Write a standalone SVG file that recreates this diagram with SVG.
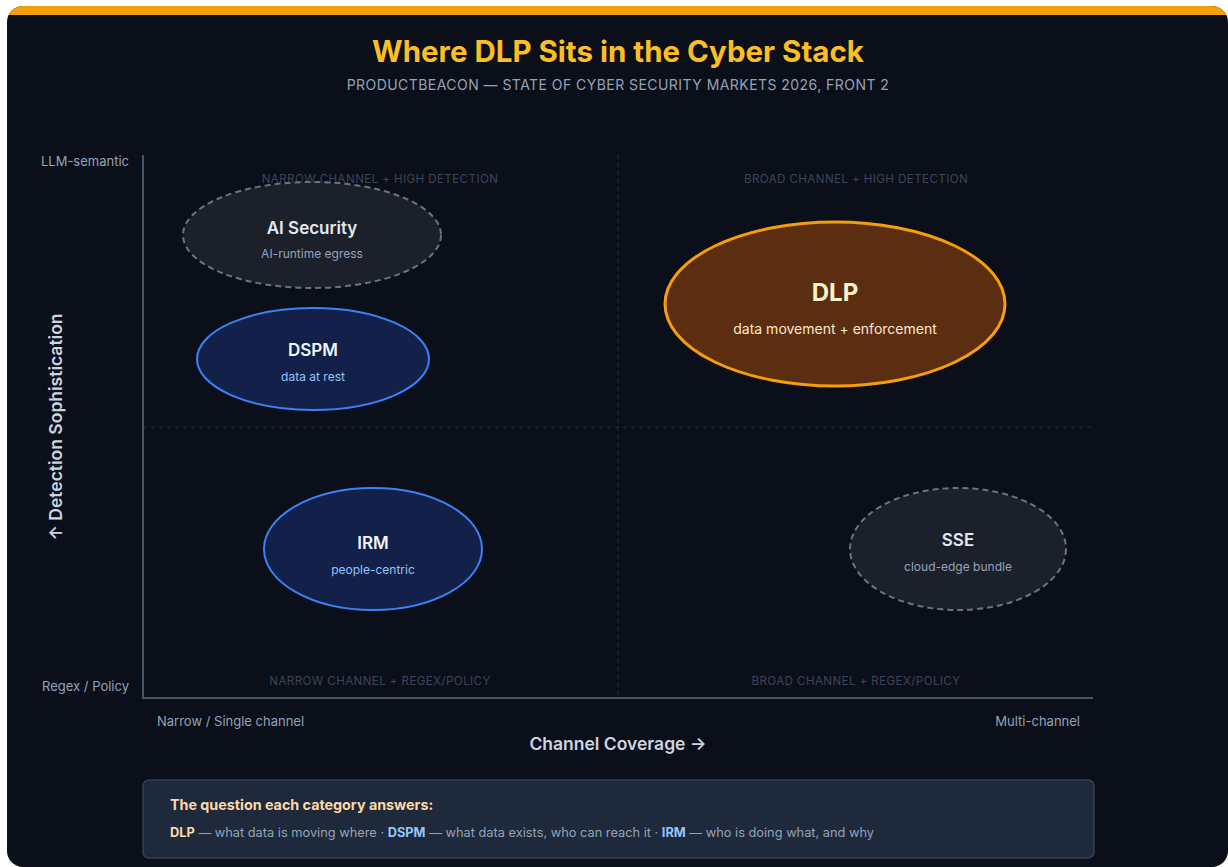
<svg xmlns="http://www.w3.org/2000/svg" width="1228" height="867" viewBox="0 0 1228 867">
  <defs>
    <clipPath id="card">
      <rect x="7" y="6" width="1221" height="861" rx="16"/>
    </clipPath>
    <style>
      text { font-family: Inter, "Noto Sans", "DejaVu Sans", sans-serif; }
      .quad { font-size: 11.6px; fill: #3b4558; letter-spacing: 0.4px; text-anchor: middle; }
      .tick { font-size: 13px; fill: #94a3b8; }
      .axt { font-size: 17.5px; font-weight: 600; fill: #cbd5e1; text-anchor: middle; }
      .nt { font-size: 17px; font-weight: 600; text-anchor: middle; }
      .ns { font-size: 12px; text-anchor: middle; }
      .grid { stroke: #252d3d; stroke-width: 1; stroke-dasharray: 4 4; fill: none; }
      .axis { stroke: #4a5568; stroke-width: 2; fill: none; }
      .ghost { fill: #1c202b; stroke: #6b7280; stroke-width: 2; stroke-dasharray: 6 4; }
      .blue { fill: #13204a; stroke: #3b82f6; stroke-width: 2; }
    </style>
  </defs>
  <rect x="0" y="0" width="1228" height="867" fill="#ffffff"/>
  <g clip-path="url(#card)">
    <rect x="7" y="6" width="1221" height="861" fill="#0b0f1a"/>
    <rect x="7" y="6" width="1221" height="9" fill="#f59e0b"/>
  </g>

  <text x="618" y="62" text-anchor="middle" font-size="29.5" font-weight="700" fill="#fbbf24">Where DLP Sits in the Cyber Stack</text>
  <text x="618" y="90" text-anchor="middle" font-size="14" fill="#94a3b8" letter-spacing="0.45">PRODUCTBEACON — STATE OF CYBER SECURITY MARKETS 2026, FRONT 2</text>

  <g id="grid">
    <line class="grid" x1="618" y1="155" x2="618" y2="698"/>
    <line class="grid" x1="143" y1="427" x2="1093" y2="427"/>
  </g>
  <g id="axes">
    <line class="axis" x1="143" y1="155" x2="143" y2="698"/>
    <line class="axis" x1="142" y1="698" x2="1093" y2="698"/>
  </g>

  <text class="quad" x="380" y="183">NARROW CHANNEL + HIGH DETECTION</text>
  <text class="quad" x="856" y="183">BROAD CHANNEL + HIGH DETECTION</text>
  <text class="quad" x="380" y="685">NARROW CHANNEL + REGEX/POLICY</text>
  <text class="quad" x="856" y="685">BROAD CHANNEL + REGEX/POLICY</text>

  <text class="tick" x="129" y="166" text-anchor="end">LLM-semantic</text>
  <text class="tick" x="129" y="691" text-anchor="end">Regex / Policy</text>
  <text class="tick" x="157" y="726">Narrow / Single channel</text>
  <text class="tick" x="1080" y="726" text-anchor="end">Multi-channel</text>

  <text class="axt" x="618" y="750">Channel Coverage →</text>
  <text class="axt" transform="translate(62 427) rotate(-90)">↑ Detection Sophistication</text>

  <g id="ai-security">
    <ellipse class="ghost" cx="312" cy="235" rx="129" ry="53"/>
    <text class="nt" x="312" y="234" fill="#e2e8f0" font-weight="500">AI Security</text>
    <text class="ns" x="312" y="258" fill="#94a3b8">AI-runtime egress</text>
  </g>
  <g id="dspm">
    <ellipse class="blue" cx="313" cy="359" rx="116" ry="51"/>
    <text class="nt" x="313" y="356" fill="#f1f5f9">DSPM</text>
    <text class="ns" x="313" y="381" fill="#93c5fd">data at rest</text>
  </g>
  <g id="dlp">
    <ellipse cx="835" cy="304" rx="170" ry="82" fill="#5b2e12" stroke="#f59e0b" stroke-width="3"/>
    <text x="835" y="301" text-anchor="middle" font-size="24" font-weight="700" fill="#fef3c7">DLP</text>
    <text x="835" y="334" text-anchor="middle" font-size="14" fill="#fde8c8">data movement + enforcement</text>
  </g>
  <g id="irm">
    <ellipse class="blue" cx="373" cy="549" rx="109" ry="61"/>
    <text class="nt" x="373" y="549" fill="#f1f5f9">IRM</text>
    <text class="ns" x="373" y="574" fill="#93c5fd">people-centric</text>
  </g>
  <g id="sse">
    <ellipse class="ghost" cx="958" cy="549" rx="108" ry="61"/>
    <text class="nt" x="958" y="546" fill="#e2e8f0" font-weight="500">SSE</text>
    <text class="ns" x="958" y="571" fill="#94a3b8">cloud-edge bundle</text>
  </g>

  <g id="legend">
    <rect x="143" y="780" width="951" height="78" rx="6" fill="#1e293b" stroke="#334155" stroke-width="1.5"/>
    <text x="170" y="810" font-size="14.3" font-weight="700" fill="#fcd9a8">The question each category answers:</text>
    <text x="170" y="837" font-size="12.8" fill="#94a3b8"><tspan font-weight="700" fill="#fcd9a8">DLP</tspan> — what data is moving where · <tspan font-weight="700" fill="#93c5fd">DSPM</tspan> — what data exists, who can reach it · <tspan font-weight="700" fill="#93c5fd">IRM</tspan> — who is doing what, and why</text>
  </g>
</svg>
